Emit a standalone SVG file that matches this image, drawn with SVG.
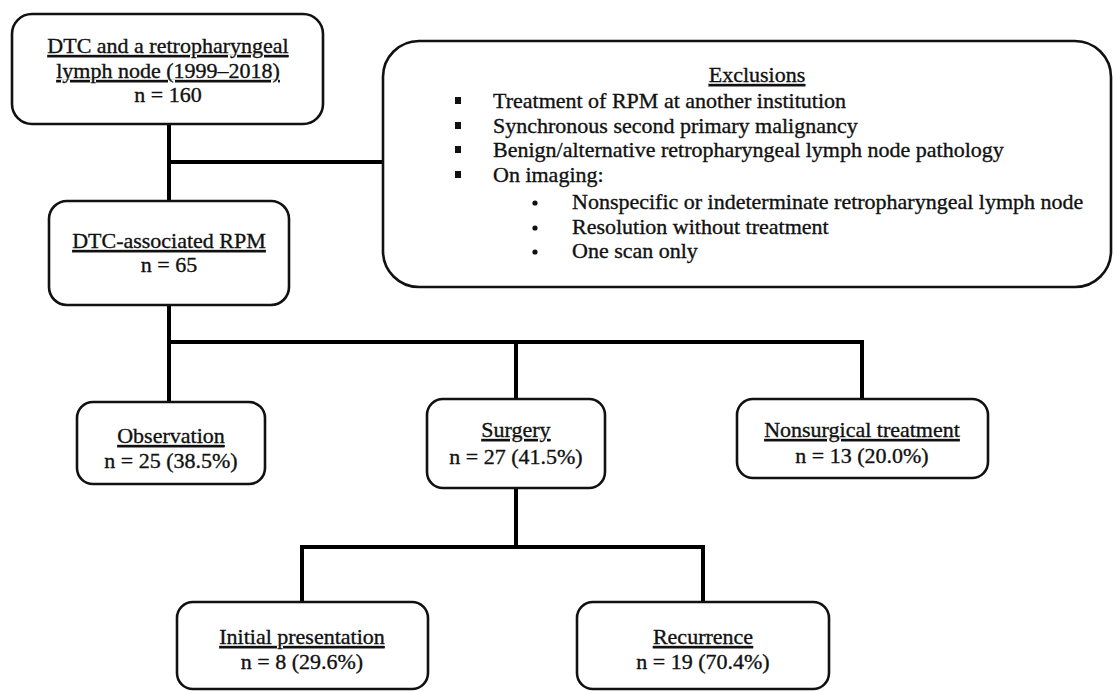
<svg xmlns="http://www.w3.org/2000/svg" width="1116" height="692" viewBox="0 0 1116 692">
<style>
.box{fill:#fff;stroke:#111;stroke-width:2.6}
.t{font-family:"Liberation Serif","Times New Roman",serif;font-size:22px;fill:#111;stroke:#111;stroke-width:0.35}
.c{text-anchor:middle}
.u{text-decoration:underline}
.con{fill:none;stroke:#000;stroke-width:4;stroke-linejoin:miter;stroke-linecap:butt}
</style>
<rect width="1116" height="692" fill="#fff"/>
<g id="connectors">
<polyline class="con" points="169,124 169,201"/>
<polyline class="con" points="169,162 383,162"/>
<polyline class="con" points="169,305 169,402"/>
<polyline class="con" points="167,342 862,342 862,399"/>
<polyline class="con" points="516,342 516,399"/>
<polyline class="con" points="516,488 516,547"/>
<polyline class="con" points="302,602 302,547 703,547 703,602"/>
</g>
<g id="node-dtc-rpln">
<rect class="box" x="12" y="14" width="311" height="110" rx="20"/>
<text class="t c u" x="168" y="53">DTC and a retropharyngeal</text>
<text class="t c u" x="168" y="78">lymph node (1999–2018)</text>
<text class="t c" x="168" y="102">n = 160</text>
</g>
<g id="node-exclusions">
<rect class="box" x="383" y="41" width="728" height="246" rx="36"/>
<text class="t c u" x="757" y="82">Exclusions</text>
<g fill="#111">
<rect x="455" y="97" width="6" height="7"/>
<rect x="455" y="122" width="6" height="7"/>
<rect x="455" y="146" width="6" height="7"/>
<rect x="455" y="171" width="6" height="7"/>
<circle cx="535" cy="203" r="2.6"/>
<circle cx="535" cy="228" r="2.6"/>
<circle cx="535" cy="252" r="2.6"/>
</g>
<text class="t" x="493" y="108">Treatment of RPM at another institution</text>
<text class="t" x="493" y="133">Synchronous second primary malignancy</text>
<text class="t" x="493" y="157">Benign/alternative retropharyngeal lymph node pathology</text>
<text class="t" x="493" y="182">On imaging:</text>
<text class="t" x="572" y="209">Nonspecific or indeterminate retropharyngeal lymph node</text>
<text class="t" x="572" y="234">Resolution without treatment</text>
<text class="t" x="572" y="258">One scan only</text>
</g>
<g id="node-dtc-rpm">
<rect class="box" x="49" y="201" width="240" height="104" rx="18"/>
<text class="t c u" x="169" y="248">DTC-associated RPM</text>
<text class="t c" x="169" y="272">n = 65</text>
</g>
<g id="node-observation">
<rect class="box" x="77" y="402" width="188" height="82" rx="16"/>
<text class="t c u" x="171" y="443">Observation</text>
<text class="t c" x="171" y="468">n = 25 (38.5%)</text>
</g>
<g id="node-surgery">
<rect class="box" x="427" y="399" width="178" height="89" rx="16"/>
<text class="t c u" x="516" y="437">Surgery</text>
<text class="t c" x="516" y="464">n = 27 (41.5%)</text>
</g>
<g id="node-nonsurgical">
<rect class="box" x="737" y="399" width="251" height="79" rx="16"/>
<text class="t c u" x="862" y="437">Nonsurgical treatment</text>
<text class="t c" x="862" y="463">n = 13 (20.0%)</text>
</g>
<g id="node-initial">
<rect class="box" x="177" y="602" width="251" height="87" rx="16"/>
<text class="t c u" x="302" y="644">Initial presentation</text>
<text class="t c" x="302" y="669">n = 8 (29.6%)</text>
</g>
<g id="node-recurrence">
<rect class="box" x="577" y="602" width="252" height="87" rx="16"/>
<text class="t c u" x="703" y="644">Recurrence</text>
<text class="t c" x="703" y="669">n = 19 (70.4%)</text>
</g>
</svg>
